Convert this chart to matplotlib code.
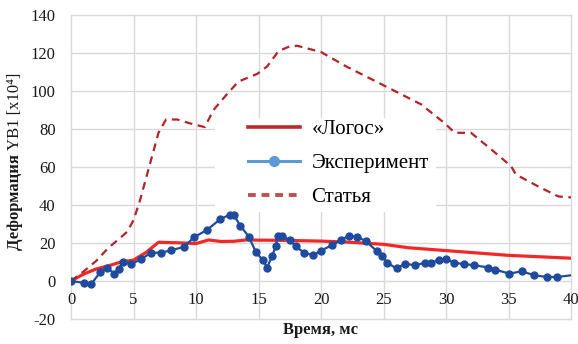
import matplotlib
matplotlib.use("Agg")
import matplotlib.pyplot as plt
from matplotlib.lines import Line2D
from matplotlib.patches import Rectangle

plt.rcParams['font.family'] = ['Liberation Serif', 'DejaVu Serif']
plt.rcParams['axes.unicode_minus'] = False

# ---- data ----
logos_t = [0, 1, 2, 3, 4, 5, 6, 7, 8, 9, 10, 11, 12, 13, 14, 15, 17, 20, 22, 25, 27, 30, 35, 40]
logos_v = [0, 3.6, 6.3, 8.0, 10, 11.0, 15.0, 20.4, 20.2, 20.0, 19.7, 21.6, 20.8, 20.9, 21.6, 21.5, 21.4, 21.0, 20.5, 19.3, 17.5, 16.0, 13.5, 12.0]

exp_t = [0, 1.07, 1.6, 2.33, 2.86, 3.47, 3.8, 4.12, 4.81, 5.61, 6.41, 7.19, 7.97, 9.06, 9.83,
         10.88, 11.95, 12.75, 13.0, 13.55, 14.22, 14.78, 15.34, 15.69, 16.09, 16.38, 16.55, 16.9,
         17.48, 17.96, 18.63, 19.38, 20.0, 20.9, 21.6, 22.2, 22.85, 23.6, 24.44, 24.9, 25.3, 26.04,
         26.73, 27.5, 28.3, 28.8, 29.4, 30.0, 30.66, 31.46, 32.26, 33.38, 33.92, 35.07, 36.06,
         37.07, 38.09, 38.89, 40.0]
exp_v = [0, -1.0, -1.8, 4.6, 7.1, 3.9, 6.2, 9.9, 8.9, 11.5, 14.9, 14.9, 16.1, 18.0, 23.0,
         26.9, 32.6, 35.0, 35.0, 29.0, 23.4, 15.4, 11.0, 7.1, 13.1, 18.4, 23.7, 23.7,
         21.6, 18.4, 14.9, 13.6, 16.0, 18.9, 21.6, 23.7, 23.4, 20.9, 15.9, 13.1, 9.6, 6.6,
         9.2, 8.2, 9.6, 9.6, 11.0, 11.6, 9.6, 8.9, 8.3, 7.1, 6.0, 3.9, 5.1,
         3.0, 2.1, 2.1, 3.0]

art_t = [0, 1, 2, 3, 4, 4.5, 5, 5.5, 6, 6.5, 7, 7.6, 8.5, 9.5, 10.7, 11.4, 12.5, 13.4, 14.9, 15.7,
         16.6, 17.5, 18.1, 20, 22, 25, 28, 29.9, 30.7, 32, 33.3, 35.2, 35.6, 37.6, 39, 40]
art_v = [0, 5, 10.5, 17.5, 23, 26, 32, 42, 54, 66, 78, 85, 85, 83, 81, 90, 98.5, 105, 109, 113,
         121, 123.5, 123.8, 120.5, 113, 103, 93, 83, 78, 78, 71, 60.5, 56, 49, 44.5, 44]

x_ticks = [0, 5, 10, 15, 20, 25, 30, 35, 40]
y_ticks = [-20, 0, 20, 40, 60, 80, 100, 120, 140]
legend_labels = ["«Логос»", "Эксперимент", "Статья"]

# ---- figure ----
fig = plt.figure(figsize=(5.78, 3.44), dpi=100)
ax = fig.add_axes([71/578, 1-319/344, 500/578, 304/344])

grid_c = '#D9D9D9'
ax.set_xlim(0, 40)
ax.set_ylim(-20, 140)
ax.set_xticks(x_ticks)
ax.set_yticks(y_ticks)
ax.grid(True, color=grid_c, lw=1.0)
ax.set_axisbelow(True)
for s in ax.spines.values():
    s.set_visible(False)
ax.spines['bottom'].set_position(('data', 0))
ax.tick_params(length=0, labelsize=12, colors='#1a1a1a')
ax.tick_params(axis='x', pad=8)
ax.tick_params(axis='y', pad=11)

red = '#F02828'
blue = '#1F4B9E'
dred = '#B0242A'

ax.plot(logos_t, logos_v, color=red, lw=2.3, zorder=3, solid_capstyle='butt')
ax.plot(exp_t, exp_v, color=blue, lw=1.6, marker='o', ms=5, markevery=slice(0, len(exp_t)-1),
        zorder=4)
ax.plot(art_t, art_v, color=dred, lw=1.6, dashes=(3.5, 2.5), zorder=3)

# legend background box
ax.add_patch(Rectangle((0.288, 0.352), 0.442, 0.309, transform=ax.transAxes,
                       facecolor='white', edgecolor='none', zorder=1.5))

handles = [
    Line2D([], [], color='#C0282C', lw=2.6),
    Line2D([], [], color='#5B9BD5', lw=2.2, marker='o', ms=7),
    Line2D([], [], color='#C0504D', lw=2.8, dashes=(2.0, 1.5)),
]
leg = ax.legend(handles, legend_labels, loc='upper left', bbox_to_anchor=(0.354, 0.655),
                frameon=False, fontsize=15, handlelength=2.5, handletextpad=0.55,
                labelspacing=0.68, borderpad=0, borderaxespad=0)
leg.set_zorder(5)

# gridlines at edges should not be clipped
fig.canvas.draw()
for ln in ax.get_xgridlines() + ax.get_ygridlines():
    ln.set_clip_on(False)

# axis labels
t1 = fig.text(15/578, 1-250/344, 'Деформация ', rotation=90, ha='center', va='bottom',
              fontsize=12, fontweight='bold', color='#1a1a1a')
fig.canvas.draw()
bb = t1.get_window_extent()
top_frac = bb.y1 / fig.bbox.height
fig.text(15/578, top_frac, 'YB1 [x10⁴]', rotation=90, ha='center', va='bottom',
         fontsize=12, color='#1a1a1a')
fig.text(321/578, 1-330/344, 'Время, мс', ha='center', va='center', fontsize=12,
         fontweight='bold', color='#1a1a1a')

fig.savefig('out.png', dpi=100)
